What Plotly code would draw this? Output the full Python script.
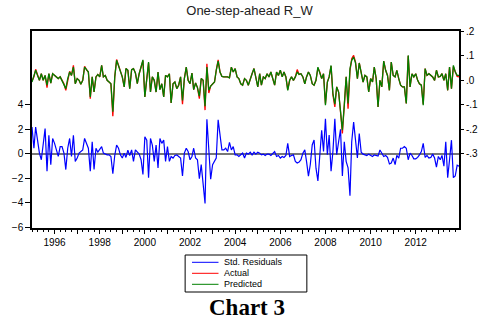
import pandas as pd
import plotly.graph_objects as go

# Monthly observations, 1995M01 .. 2013M12
months = pd.date_range("1995-01-01", periods=228, freq="MS")

predicted = [
    -0.007, 0.014, 0.041, 0.020, 0.000, 0.027, 0.000, 0.020, -0.020, 0.027,
    -0.011, 0.027, 0.020, 0.014, 0.007, 0.014, 0.000, -0.014, -0.034, 0.007,
    0.034, 0.020, 0.054, -0.014, 0.007, 0.000, -0.016, 0.000, 0.054, 0.044,
    0.034, -0.068, 0.014, -0.048, 0.014, 0.024, 0.014, 0.061, 0.014, 0.020,
    0.000, -0.007, -0.014, -0.129, 0.014, 0.082, 0.061, 0.041, 0.014, -0.027,
    0.048, 0.041, -0.034, 0.044, 0.048, 0.030, -0.014, 0.027, 0.054, 0.084,
    -0.068, 0.020, 0.075, -0.048, 0.014, 0.000, -0.048, 0.034, -0.038, -0.014,
    -0.068, 0.020, 0.014, 0.027, -0.093, -0.014, -0.007, -0.034, -0.020, 0.014,
    -0.082, 0.007, 0.054, 0.000, -0.014, 0.030, -0.038, -0.011, -0.030, -0.065,
    0.007, 0.000, -0.106, 0.054, -0.041, -0.024, -0.014, -0.007, 0.041, 0.079,
    0.034, 0.016, 0.014, 0.014, 0.014, 0.010, 0.054, 0.034, 0.048, 0.014,
    0.007, -0.014, -0.020, 0.007, 0.000, -0.020, 0.007, 0.027, 0.048, 0.014,
    -0.027, 0.027, -0.020, 0.014, 0.007, 0.027, 0.014, 0.034, 0.000, -0.020,
    0.034, 0.020, 0.041, 0.014, 0.034, 0.014, -0.041, 0.000, 0.014, 0.000,
    0.014, 0.034, 0.024, 0.027, 0.014, -0.014, 0.014, 0.034, 0.020, -0.014,
    -0.020, 0.000, 0.054, 0.034, 0.007, 0.027, -0.102, -0.007, 0.014, 0.061,
    -0.054, -0.098, -0.027, -0.048, -0.129, -0.204, -0.102, 0.014, -0.095, 0.048,
    0.082, 0.095, 0.072, 0.007, 0.071, 0.027, -0.007, 0.020, 0.014, -0.048,
    0.007, -0.007, 0.054, 0.007, -0.109, 0.000, -0.027, 0.079, 0.041, 0.020,
    -0.041, 0.075, 0.020, 0.014, 0.041, 0.007, -0.020, -0.027, -0.027, -0.095,
    0.102, -0.027, 0.027, 0.014, 0.027, 0.000, -0.014, -0.020, -0.102, 0.048,
    0.020, 0.027, 0.020, 0.014, 0.000, 0.041, 0.014, 0.016, 0.027, 0.000,
    0.027, -0.041, 0.054, -0.034, 0.061, 0.034, 0.020, 0.020,
]

actual = [
    -0.003, 0.014, 0.045, 0.020, 0.000, 0.027, 0.000, 0.020, -0.030, 0.027,
    -0.011, 0.027, 0.020, 0.014, 0.007, 0.014, 0.000, -0.014, -0.041, 0.007,
    0.037, 0.020, 0.061, -0.014, 0.007, 0.000, -0.016, 0.000, 0.057, 0.044,
    0.034, -0.075, 0.014, -0.048, 0.014, 0.024, 0.014, 0.061, 0.014, 0.020,
    0.000, -0.007, -0.014, -0.147, 0.014, 0.085, 0.061, 0.041, 0.014, -0.027,
    0.048, 0.041, -0.034, 0.044, 0.048, 0.030, -0.014, 0.027, 0.054, 0.080,
    -0.068, 0.020, 0.071, -0.048, 0.014, 0.000, -0.048, 0.034, -0.038, -0.014,
    -0.068, 0.020, 0.014, 0.027, -0.093, -0.014, -0.007, -0.034, -0.020, 0.014,
    -0.098, 0.007, 0.054, 0.000, -0.014, 0.030, -0.038, -0.011, -0.030, -0.075,
    0.007, 0.000, -0.122, 0.068, -0.052, -0.024, -0.014, -0.007, 0.041, 0.084,
    0.034, 0.016, 0.014, 0.014, 0.014, 0.010, 0.054, 0.034, 0.048, 0.014,
    0.007, -0.014, -0.020, 0.007, 0.000, -0.020, 0.007, 0.027, 0.048, 0.014,
    -0.027, 0.027, -0.020, 0.014, 0.007, 0.027, 0.014, 0.034, 0.000, -0.020,
    0.034, 0.020, 0.041, 0.014, 0.034, 0.014, -0.038, 0.000, 0.014, 0.000,
    0.014, 0.044, 0.024, 0.027, 0.014, -0.014, 0.014, 0.034, 0.020, -0.014,
    -0.020, 0.000, 0.050, 0.034, 0.007, 0.027, -0.096, -0.007, 0.014, 0.058,
    -0.060, -0.109, -0.027, -0.048, -0.129, -0.218, -0.102, 0.014, -0.116, 0.040,
    0.088, 0.102, 0.075, 0.007, 0.071, 0.027, -0.007, 0.020, 0.014, -0.048,
    0.007, -0.007, 0.054, 0.007, -0.109, 0.000, -0.027, 0.079, 0.041, 0.020,
    -0.041, 0.075, 0.020, 0.014, 0.041, 0.007, -0.020, -0.027, -0.027, -0.095,
    0.100, -0.027, 0.027, 0.014, 0.027, 0.000, -0.014, -0.020, -0.098, 0.048,
    0.020, 0.027, 0.020, 0.014, 0.000, 0.041, 0.014, 0.016, 0.027, 0.000,
    0.027, -0.041, 0.054, -0.034, 0.056, 0.034, 0.016, 0.014,
]

std_residuals = [
    2.16, 0.43, 2.16, 1.23, 0.03, -0.51, 0.69, 2.03, -1.44, 1.49,
    -0.91, 1.23, 0.83, 0.29, -0.24, 0.56, 0.56, 0.03, -1.31, 0.43,
    1.23, -0.24, 1.49, -0.64, -0.37, 0.03, 0.16, 0.29, 1.23, 0.83,
    0.43, -1.44, 0.96, -1.31, 0.43, 0.11, 0.29, 0.56, 0.03, -0.05,
    -0.11, -0.11, -0.24, -1.65, -0.16, 0.69, 0.43, -0.11, -0.37, 0.03,
    -0.32, 0.27, -0.16, 0.29, -0.64, 0.29, 0.11, -0.05, -0.51, -1.71,
    1.36, 1.09, -1.97, 1.23, 0.69, -0.64, 0.69, -1.17, 1.23, 0.83,
    1.09, -0.64, 0.56, -0.64, -0.24, -0.37, -0.16, -0.11, -0.24, -0.37,
    -1.84, 0.03, 0.43, 0.16, -0.51, -0.24, 0.43, -0.37, -0.51, -2.05,
    -0.91, -2.24, -4.08, 2.80, -0.11, -2.10, -0.91, -0.64, -0.37, 2.75,
    1.49, 0.29, 0.29, 0.43, 0.16, 0.91, 0.29, 0.56, -0.11, -0.11,
    -0.24, -0.11, 0.03, -0.37, 0.03, -0.05, 0.11, -0.11, 0.11, -0.05,
    0.11, 0.03, -0.11, -0.05, -0.16, -0.05, -0.05, -0.16, 0.03, 0.16,
    -0.24, -0.16, -0.37, -0.24, -0.32, -0.16, 0.83, -0.24, -0.16, -0.11,
    -0.64, -0.77, -0.70, -0.50, 0.03, 0.30, -0.64, -1.84, -0.90, 0.70,
    1.10, -1.20, -2.24, 0.16, 1.90, 0.16, 2.83, -0.10, 1.50, -1.44,
    0.16, 2.83, -0.10, 0.96, 1.97, -1.84, 0.96, -0.64, -1.17, -3.44,
    0.96, 2.56, 1.20, -0.37, 1.63, 0.11, -0.05, -0.11, -0.16, -0.05,
    -0.16, -0.24, -0.11, -0.19, -0.21, 0.29, 0.00, -0.24, -0.16, -0.32,
    -0.85, -0.77, -0.37, -0.91, -0.16, -0.37, 0.43, 0.43, 0.56, 0.43,
    -0.51, 0.03, -0.16, -0.43, -0.43, -0.32, -0.11, 0.16, 0.83, -0.32,
    -0.16, -0.37, -0.32, -0.05, -0.37, -1.12, -0.24, -0.51, -0.16, -1.04,
    0.96, -1.97, -0.51, 1.09, -1.97, -1.84, -0.96, -1.04,
]

year_ticks = [f"{y}-01-01" for y in range(1995, 2014)]
year_labels = [str(y) if y % 2 == 0 else "" for y in range(1995, 2014)]
left_ticks = [-6, -4, -2, 0, 2, 4]
right_ticks = [-0.3, -0.2, -0.1, 0.0, 0.1, 0.2]
right_labels = ["-.3", "-.2", "-.1", ".0", ".1", ".2"]
series_names = ["Std. Residuals", "Actual", "Predicted"]
series_colors = ["#0000ff", "#ff0000", "#008000"]

FONT = "Liberation Sans, Arial, Helvetica, sans-serif"

fig = go.Figure()
fig.add_trace(go.Scatter(x=months, y=std_residuals, name=series_names[0], mode="lines",
                         line=dict(color=series_colors[0], width=1.2), yaxis="y"))
fig.add_trace(go.Scatter(x=months, y=actual, name=series_names[1], mode="lines",
                         line=dict(color=series_colors[1], width=1.3), yaxis="y2"))
fig.add_trace(go.Scatter(x=months, y=predicted, name=series_names[2], mode="lines",
                         line=dict(color=series_colors[2], width=1.3), yaxis="y2"))

W, H = 490, 323
L, R, T, B = 32, 23, 31, 95
pw, ph = W - L - R, H - T - B


def px_x(x):
    return (x - L) / pw


def px_y(y):
    return (H - B - y) / ph


shapes = [dict(type="rect", xref="paper", yref="paper",
               x0=px_x(188), x1=px_x(312), y0=px_y(255), y1=px_y(292),
               line=dict(color="black", width=1), fillcolor="white", layer="above")]
annotations = []
rows = [262.3, 273.3, 284.3]
for name, col, yy in zip(series_names, series_colors, rows):
    shapes.append(dict(type="line", xref="paper", yref="paper",
                       x0=px_x(195), x1=px_x(222), y0=px_y(yy), y1=px_y(yy),
                       line=dict(color=col, width=1), layer="above"))
    annotations.append(dict(text=name, xref="paper", yref="paper", x=px_x(226), y=px_y(yy),
                            xanchor="left", yanchor="middle", showarrow=False,
                            font=dict(family=FONT, size=9, color="black")))
annotations.append(dict(text="<b>Chart 3</b>", xref="paper", yref="paper",
                        x=px_x(251), y=px_y(307), xanchor="center", yanchor="middle",
                        showarrow=False,
                        font=dict(family="Liberation Serif, Times New Roman, serif", size=23,
                                  color="black")))

fig.update_layout(
    width=W, height=H,
    margin=dict(l=L, r=R, t=T, b=B, pad=0),
    paper_bgcolor="white", plot_bgcolor="white",
    showlegend=False,
    title=dict(text="One-step-ahead R_W", x=249.5 / W, y=1 - 10 / H,
               xanchor="center", yanchor="middle",
               font=dict(family=FONT, size=13, color="#222222")),
    xaxis=dict(type="date", range=[months[0], months[-1]],
               tickmode="array", tickvals=year_ticks, ticktext=year_labels,
               ticklabelmode="period",
               ticks="outside", ticklen=4, tickwidth=1, tickcolor="black",
               minor=dict(ticks="outside", ticklen=2, tickwidth=1, tickcolor="black",
                          dtick="M3", tick0="1995-01-01", showgrid=False),
               showline=True, linecolor="black", linewidth=1.5, mirror=True,
               showgrid=False, zeroline=False,
               tickfont=dict(family=FONT, size=10, color="black")),
    yaxis=dict(range=[-6.08, 10.0], tickvals=left_ticks,
               ticks="outside", ticklen=5, tickwidth=1, tickcolor="black",
               showline=True, linecolor="black", linewidth=1.5, mirror=True,
               showgrid=False, zeroline=True, zerolinecolor="#777777", zerolinewidth=2,
               tickfont=dict(family=FONT, size=10, color="black")),
    yaxis2=dict(overlaying="y", side="right", range=[-0.605, 0.202],
                tickvals=right_ticks, ticktext=right_labels,
                ticks="outside", ticklen=4, tickwidth=1, tickcolor="black",
                showline=False, showgrid=False, zeroline=False,
                tickfont=dict(family=FONT, size=10, color="black")),
    shapes=shapes,
    annotations=annotations,
)

fig.write_html("out.html")
